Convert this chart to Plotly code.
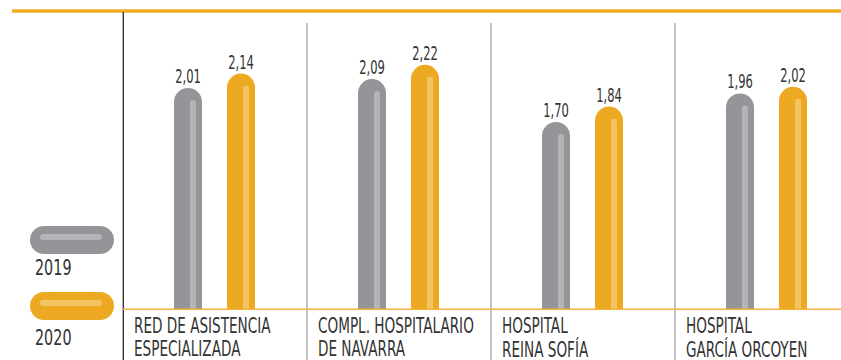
import json
import plotly.graph_objects as go

# ---------------- data ----------------
categories = ["RED DE ASISTENCIA<br>ESPECIALIZADA",
              "COMPL. HOSPITALARIO<br>DE NAVARRA",
              "HOSPITAL<br>REINA SOFÍA",
              "HOSPITAL<br>GARCÍA ORCOYEN"]
series_names = ["2019", "2020"]
values_2019 = [2.01, 2.09, 1.70, 1.96]
values_2020 = [2.14, 2.22, 1.84, 2.02]

# ---------------- layout constants ----------------
W, H = 841, 360
ML, MR, MT, MB = 123, 0, 12, 51
PW, PH = W - ML - MR, H - MT - MB          # plot area in px
CAT_PX = 184                               # px per category
Y_MAX = 2.7                                # value at top of plot area
PX_PER_UNIT = PH / Y_MAX

GRAY, GRAY_L = "#939598", "#b3b4b6"
ORANGE, ORANGE_L = "#eda921", "#f4c462"
TEXT = "#333333"
FONT = "DejaVu Sans Condensed, DejaVu Sans, sans-serif"

BAR_W = 28
STRIPE_W = 6
STRIPE_DX = 16
STRIPE_INSET = 12
OFF = {"2019": -41, "2020": 12}
COL = {"2019": (GRAY, GRAY_L), "2020": (ORANGE, ORANGE_L)}
VALS = {"2019": values_2019, "2020": values_2020}

xs = list(range(len(categories)))


def px_x(p):
    return (p - ML) / PW


def px_y(p):
    return (H - MB - p) / PH


fig = go.Figure()
for name in series_names:
    c, cl = COL[name]
    vals = VALS[name]
    fig.add_trace(go.Bar(
        x=xs, y=vals, name=name, marker=dict(color=c, line=dict(width=0), cornerradius=BAR_W / 2),
        offset=OFF[name] / CAT_PX, width=BAR_W / CAT_PX, hoverinfo="skip", showlegend=False))
    fig.add_trace(go.Bar(
        x=xs, y=[v - STRIPE_INSET / PX_PER_UNIT for v in vals], name=name + " hl",
        marker=dict(color=cl, line=dict(width=0), cornerradius=STRIPE_W / 2),
        offset=(OFF[name] + STRIPE_DX) / CAT_PX, width=STRIPE_W / CAT_PX,
        hoverinfo="skip", showlegend=False))

annotations = []
scales = []
for name in series_names:
    for i, v in enumerate(VALS[name]):
        annotations.append(dict(
            x=i + (OFF[name] + BAR_W / 2) / CAT_PX, y=v, xref="x", yref="y",
            text=f"{v:.2f}".replace(".", ","), showarrow=False,
            xanchor="center", yanchor="bottom", yshift=-2,
            font=dict(family=FONT, size=20, color=TEXT)))
        scales.append(0.64)

for i, cat in enumerate(categories):
    for j, line in enumerate(cat.split("<br>")):
        annotations.append(dict(
            x=i - 0.5 + 9 / CAT_PX, y=px_y(312 + 23 * j), xref="x", yref="paper",
            text=line, showarrow=False, xanchor="left", yanchor="top", align="left",
            font=dict(family=FONT, size=21, color=TEXT)))
        scales.append(0.72)

# legend texts
for name, ytop in zip(series_names, [254, 324]):
    annotations.append(dict(
        x=px_x(33), y=px_y(ytop), xref="paper", yref="paper", text=name,
        showarrow=False, xanchor="left", yanchor="top", align="left",
        font=dict(family=FONT, size=21, color=TEXT)))
    scales.append(0.76)

shapes = []
# top orange rule
shapes.append(dict(type="line", xref="paper", yref="paper", x0=px_x(12), x1=1,
                   y0=px_y(11), y1=px_y(11), line=dict(color="#f0ac24", width=3.5)))
# left black axis line
shapes.append(dict(type="line", xref="paper", yref="paper", x0=px_x(123.3), x1=px_x(123.3),
                   y0=px_y(12), y1=px_y(H), line=dict(color="#2b2b2b", width=1.3)))
# category separators
for i in range(len(categories) - 1):
    shapes.append(dict(type="line", xref="x", yref="paper", x0=i + 0.5, x1=i + 0.5,
                       y0=px_y(23), y1=px_y(H), line=dict(color="#c4c4c4", width=2)))
# baseline
shapes.append(dict(type="line", xref="paper", yref="paper", x0=0, x1=1,
                   y0=px_y(309.3), y1=px_y(309.3), line=dict(color="#f0b23c", width=1.5)))


def pill(x0, x1, y0, y1, color):
    r = (y1 - y0) / 2
    out = [dict(type="rect", xref="paper", yref="paper", x0=px_x(x0 + r), x1=px_x(x1 - r),
                y0=px_y(y1), y1=px_y(y0), fillcolor=color, line=dict(width=0), layer="above")]
    for cx in (x0 + r, x1 - r):
        out.append(dict(type="circle", xref="paper", yref="paper", x0=px_x(cx - r), x1=px_x(cx + r),
                        y0=px_y(y1), y1=px_y(y0), fillcolor=color, line=dict(width=0), layer="above"))
    return out


for name, ytop in zip(series_names, [226, 292]):
    c, cl = COL[name]
    shapes += pill(30, 114, ytop, ytop + 28, c)
    shapes += pill(40, 102, ytop + 8, ytop + 14, cl)

fig.update_layout(
    width=W, height=H, margin=dict(l=ML, r=MR, t=MT, b=MB),
    paper_bgcolor="white", plot_bgcolor="white",
    barmode="overlay", showlegend=False, hovermode=False,
    xaxis=dict(range=[-0.5, -0.5 + PW / CAT_PX], visible=False, fixedrange=True),
    yaxis=dict(range=[0, Y_MAX], visible=False, fixedrange=True),
    annotations=annotations, shapes=shapes,
)

# remove default page margin and condense the annotation text horizontally
post = """
document.body.style.margin='0';
var gd=document.getElementById('{plot_id}');
var sc=%s;
gd.querySelectorAll('g.annotation').forEach(function(g){
  var i=+g.getAttribute('data-index');
  var t=g.querySelector('text.annotation-text');
  if(!t||sc[i]===undefined){return;}
  var a=t.getAttribute('text-anchor');
  t.style.transformBox='fill-box';
  t.style.transformOrigin=(a==='start'?'left':(a==='end'?'right':'center'))+' center';
  t.style.transform='scaleX('+sc[i]+')';
});
""" % json.dumps(scales)

fig.write_html("out.html", post_script=post,
               config={"displayModeBar": False, "staticPlot": True})
